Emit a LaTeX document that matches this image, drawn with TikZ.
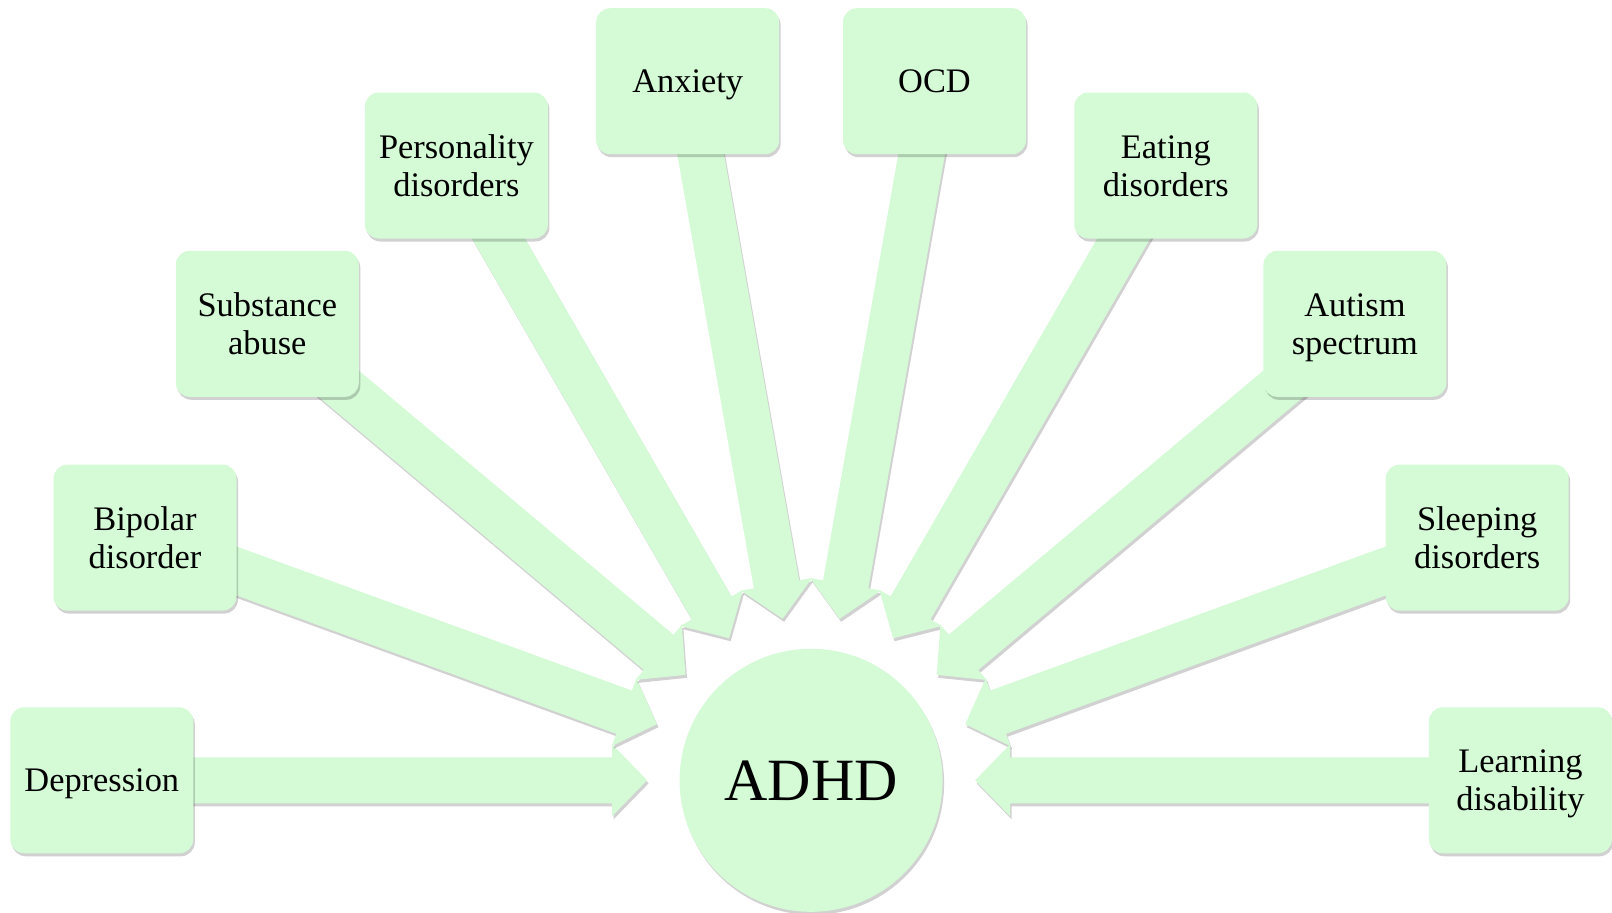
\documentclass[tikz,border=0pt]{standalone}
\usepackage{fontspec}
\setmainfont{Liberation Serif}
\usetikzlibrary{calc,shadows}
\pgfdeclarelayer{background}
\pgfsetlayers{background,main}
\definecolor{boxgreen}{RGB}{212,250,214}
\newcommand\linestrut{\vrule height 0.891em depth 0.216em width 0pt\relax}
\newcommand\boxfont{\fontsize{34.4}{38}\selectfont\lineskiplimit=-1000pt\relax}
\tikzset{
  softshadow/.style={drop shadow={shadow xshift=1.5pt, shadow yshift=-3pt, opacity=0.18, fill=black}},
  stepbox/.style={rectangle, rounded corners=14pt, fill=boxgreen, minimum width=183pt,
    minimum height=146pt, inner sep=0pt, align=center,
    font=\boxfont, execute at end node=\linestrut, softshadow},
  hub/.style={circle, fill=boxgreen, minimum size=263pt, inner sep=0pt,
    font=\fontsize{60}{72}\selectfont, softshadow},
  feedarrow/.style={fill=boxgreen, softshadow}
}
\begin{document}
\begin{tikzpicture}[x=1pt,y=-1pt]
\useasboundingbox (0,0) rectangle (1612,913);
\node[hub] (hub) at (811.1,780.3) {ADHD};
\node[stepbox] (dep) at (101.8,780.3) {\linestrut Depression};
\node[stepbox] (bip) at (145,537.6) {\linestrut Bipolar\\disorder};
\node[stepbox] (sub) at (267.3,323.8) {\linestrut Substance\\abuse};
\node[stepbox] (per) at (456.4,165.5) {\linestrut Personality\\disorders};
\node[stepbox] (anx) at (687.7,81.2) {\linestrut Anxiety};
\node[stepbox] (ocd) at (934.5,81.2) {\linestrut OCD};
\node[stepbox] (eat) at (1165.8,165.5) {\linestrut Eating\\disorders};
\node[stepbox] (aut) at (1354.9,323.8) {\linestrut Autism\\spectrum};
\node[stepbox] (sle) at (1477.2,537.6) {\linestrut Sleeping\\disorders};
\node[stepbox] (lea) at (1520.4,780.3) {\linestrut Learning\\disability};
\begin{pgfonlayer}{background}
\foreach \b in {dep,bip,sub,per,anx,ocd,eat,aut,sle,lea}{
  \coordinate (T) at ($(hub.center)!164pt!(\b.center)$);
  \coordinate (H) at ($(hub.center)!199pt!(\b.center)$);
  \fill[feedarrow] (T)
    -- ($(H)!36pt!90:(\b.center)$)
    -- ($(H)!23pt!90:(\b.center)$)
    -- ($(\b.center)!23pt!-90:(hub.center)$)
    -- ($(\b.center)!23pt!90:(hub.center)$)
    -- ($(H)!23pt!-90:(\b.center)$)
    -- ($(H)!36pt!-90:(\b.center)$)
    -- cycle;
}
\end{pgfonlayer}
\end{tikzpicture}
\end{document}
